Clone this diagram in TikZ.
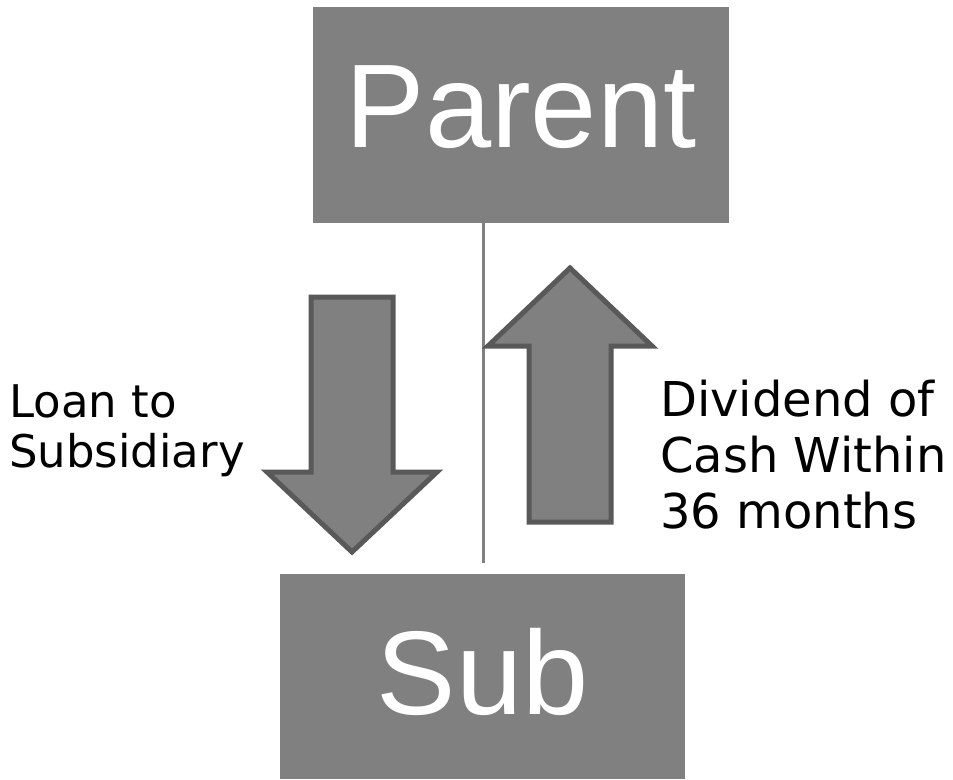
\documentclass[tikz,border=0pt]{standalone}
\usepackage{fontspec}
\setmainfont{DejaVu Sans}
\newfontfamily\boxfont{Liberation Sans}
\usepackage{xcolor}
\usetikzlibrary{positioning}

\definecolor{boxgray}{HTML}{808080}
\definecolor{edgegray}{HTML}{595959}

\begin{document}
\begin{tikzpicture}[x=1pt,y=-1pt]
        \tikzstyle{entity}=[rectangle,fill=boxgray,text=white,font=\boxfont\fontsize{119}{119}\selectfont,inner sep=0pt,text depth=16pt]
        \tikzstyle{flow}=[draw=edgegray,fill=boxgray,line width=5pt,miter limit=10]
        \tikzstyle{note}=[align=left,inner sep=0pt,anchor=base west]
        \useasboundingbox (0,0) rectangle (953,779);
       \begin{scope}
         \node [entity,minimum width=416pt,minimum height=216pt] (parent) at (521,115) {Parent};
         \node [entity,minimum width=405pt,minimum height=205pt,text depth=11pt] (sub) at (482.5,676.5) {Sub};
         \coordinate (stem) at (483,563);
         \draw [draw=boxgray,line width=3pt] (parent.south -| stem) -- (stem);
         % loan goes down, dividend comes back up
         \path[flow] (311,297) -- (393,297) -- (393,472) -- (437,472) -- (352,552) -- (267,472) -- (311,472) -- cycle;
         \path[flow] (529,522) -- (611,522) -- (611,346) -- (652,346) -- (570,268) -- (488,346) -- (529,346) -- cycle;
         \node [note,font=\fontsize{45}{50}\selectfont] (loan) at (9,467) {Loan to\\Subsidiary};
         \node [note,font=\fontsize{48}{56}\selectfont] (dividend) at (660,528) {Dividend of\\Cash Within\\36 months};
        \end{scope}
      \end{tikzpicture}
\end{document}
